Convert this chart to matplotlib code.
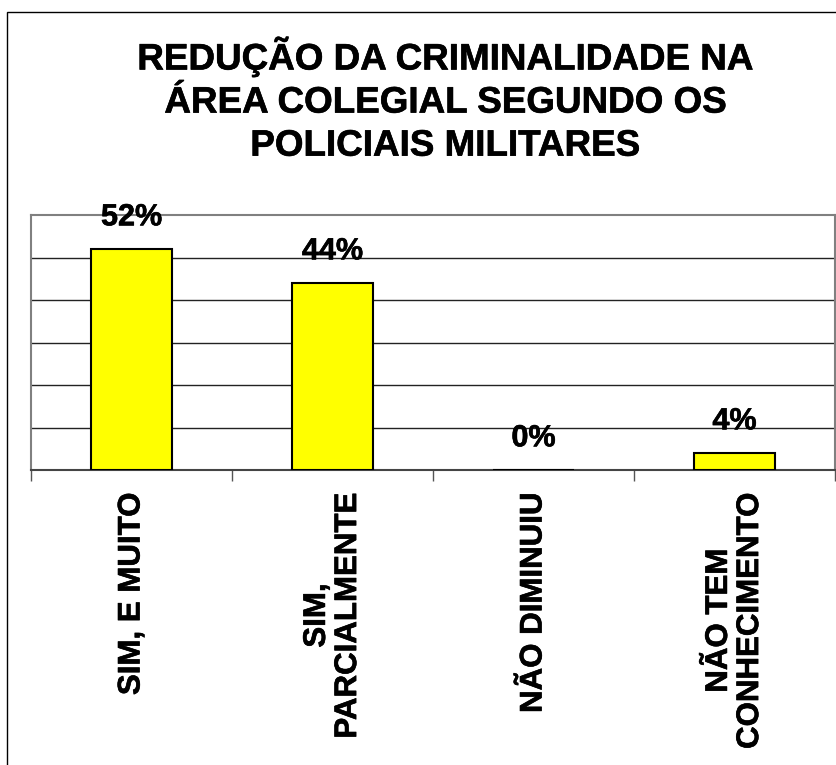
import numpy as np
import matplotlib
matplotlib.use("Agg")
import matplotlib.pyplot as plt
import matplotlib.patheffects as pe
from matplotlib.patches import Rectangle

plt.rcParams['font.family'] = ['Liberation Sans', 'DejaVu Sans']

categorias = ["SIM, E MUITO", "SIM,\nPARCIALMENTE", "NÃO DIMINUIU", "NÃO TEM\nCONHECIMENTO"]
valores = [0.52, 0.44, 0.00, 0.04]
rotulos = ["52%", "44%", "0%", "4%"]
titulo = "REDUÇÃO DA CRIMINALIDADE NA\nÁREA COLEGIAL SEGUNDO OS\nPOLICIAIS MILITARES"

W, H = 836, 765
fig = plt.figure(figsize=(W / 100, H / 100), dpi=100)

# deixa o texto um pouco mais pesado, como no original
grosso = [pe.withStroke(linewidth=0.45, foreground='black')]

# moldura externa (cortada a direita e embaixo)
fig.patches.append(Rectangle((7 / W, -0.1), 1.2, 1 - 12 / H + 0.1,
                             transform=fig.transFigure, fill=False,
                             edgecolor='black', linewidth=1.0))

ax = fig.add_axes([31 / W, 1 - 470 / H, (835 - 31) / W, (470 - 215) / H])

x = np.arange(len(categorias))
ax.bar(x, valores, width=0.4, color='#FFFF00', edgecolor='black', linewidth=1.5, zorder=3)

for xi, v, r in zip(x, valores, rotulos):
    ax.annotate(r, (xi, v), xytext=(0, 12), textcoords='offset points',
                ha='center', va='bottom', fontsize=22, fontweight='bold', zorder=4,
                path_effects=grosso)

ax.set_xlim(-0.5, len(categorias) - 0.5)
ax.set_ylim(0, 0.6)
ax.set_yticks(np.arange(0.1, 0.6, 0.1))
ax.yaxis.grid(True, color='#222222', linewidth=1.0, zorder=0)
ax.tick_params(axis='y', left=False, labelleft=False)

ax.set_xticks(np.arange(-0.5, len(categorias), 1.0))
ax.set_xticklabels([])
ax.tick_params(axis='x', which='major', direction='out', length=8, color='#555555', width=1)
ax.set_xticks(x, minor=True)
ax.set_xticklabels(categorias, minor=True, rotation=90, fontsize=22.5,
                   fontweight='bold', multialignment='center', linespacing=1.05)
ax.tick_params(axis='x', which='minor', length=0, pad=16)
for t in ax.get_xticklabels(minor=True):
    t.set_path_effects(grosso)

for s in ['left', 'top', 'right']:
    ax.spines[s].set_color('#808080')
    ax.spines[s].set_linewidth(1.5)
ax.spines['bottom'].set_color('#444444')
ax.spines['bottom'].set_linewidth(1.5)

fig.text(445 / W, 1 - 36 / H, titulo, ha='center', va='top', fontsize=26.5,
         fontweight='bold', linespacing=1.3, path_effects=grosso)

fig.savefig("out.png", dpi=100)
